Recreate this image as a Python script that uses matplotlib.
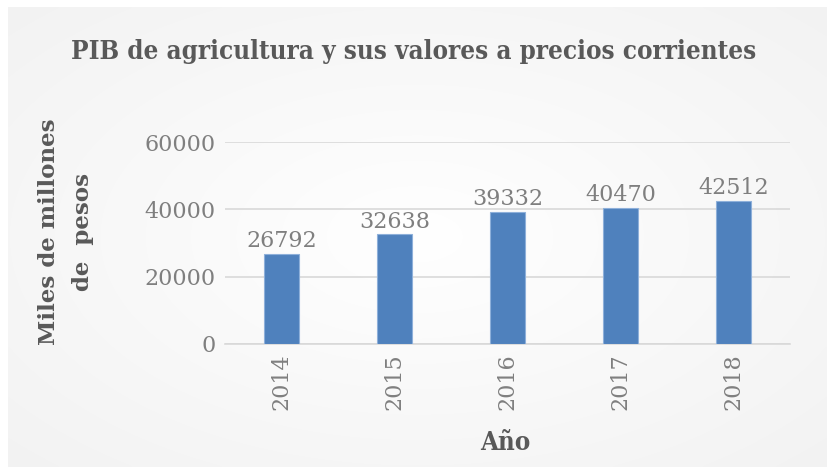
import numpy as np
import matplotlib
matplotlib.use("Agg")
import matplotlib.pyplot as plt

years = ["2014", "2015", "2016", "2017", "2018"]
values = [26792, 32638, 39332, 40470, 42512]
yticks = [0, 20000, 40000, 60000]

title = "PIB de agricultura y sus valores a precios corrientes"
ylabel = "Miles de millones\nde  pesos"
xlabel = "Año"

W, H = 827, 467
fig = plt.figure(figsize=(W / 100, H / 100), dpi=100)
fig.patch.set_facecolor("white")

# background radial gradient panel
bg = fig.add_axes([8 / W, 0, 1 - 8 / W, 1 - 7 / H])
yy, xx = np.mgrid[-1:1:200j, -1:1:300j]
r = np.sqrt(xx ** 2 + yy ** 2) / np.sqrt(2)
c = 1.0 - 0.05 * r
img = np.dstack([c, c, c])
bg.imshow(img, aspect="auto", extent=[0, 1, 0, 1], interpolation="bilinear")
bg.set_axis_off()
bg.set_zorder(-10)

ax = fig.add_axes([225 / W, 1 - 344 / H, (790 - 225) / W, (344 - 142) / H])
ax.set_facecolor("none")
x = np.arange(len(years))
bars = ax.bar(x, values, width=0.31, color="#4f81bd", edgecolor="#8eb0da",
              linewidth=0.8, zorder=3)
ax.set_xlim(-0.5, len(years) - 0.5)
ax.set_ylim(0, 60000)
ax.set_yticks(yticks)
ax.set_yticklabels([str(v) for v in yticks])
ax.set_xticks(x)
ax.set_xticklabels(years, rotation=90)
ax.grid(axis="y", color="#d9d9d9", linewidth=1.2, zorder=0)
ax.set_axisbelow(True)
for s in ["top", "right", "left"]:
    ax.spines[s].set_visible(False)
ax.spines["bottom"].set_color("#d9d9d9")
ax.spines["bottom"].set_linewidth(1.2)
ax.tick_params(axis="both", length=0, labelsize=16, labelcolor="#7f7f7f")
ax.tick_params(axis="y", pad=7)
ax.tick_params(axis="x", pad=7)
for lab in ax.get_xticklabels() + ax.get_yticklabels():
    lab.set_family("DejaVu Serif")

for b, v in zip(bars, values):
    ax.annotate(str(v), (b.get_x() + b.get_width() / 2, v), xytext=(0, 1),
                textcoords="offset points", ha="center", va="bottom",
                fontsize=16, color="#7f7f7f", family="DejaVu Serif")

fig.text(0.5, 1 - 51 / H, title, ha="center", va="center", fontsize=18.6,
         fontweight="bold", color="#595959", family="DejaVu Serif",
         fontstretch="condensed")
fig.text(66 / W, 1 - 232 / H, ylabel, ha="center", va="center", rotation=90,
         fontsize=16.5, fontweight="bold", color="#595959",
         family="DejaVu Serif", linespacing=1.65)
fig.text(505 / W, 1 - 442 / H, xlabel, ha="center", va="center", fontsize=18.5,
         fontweight="bold", color="#595959", family="DejaVu Serif",
         fontstretch="condensed")

fig.savefig("out.png", dpi=100)
